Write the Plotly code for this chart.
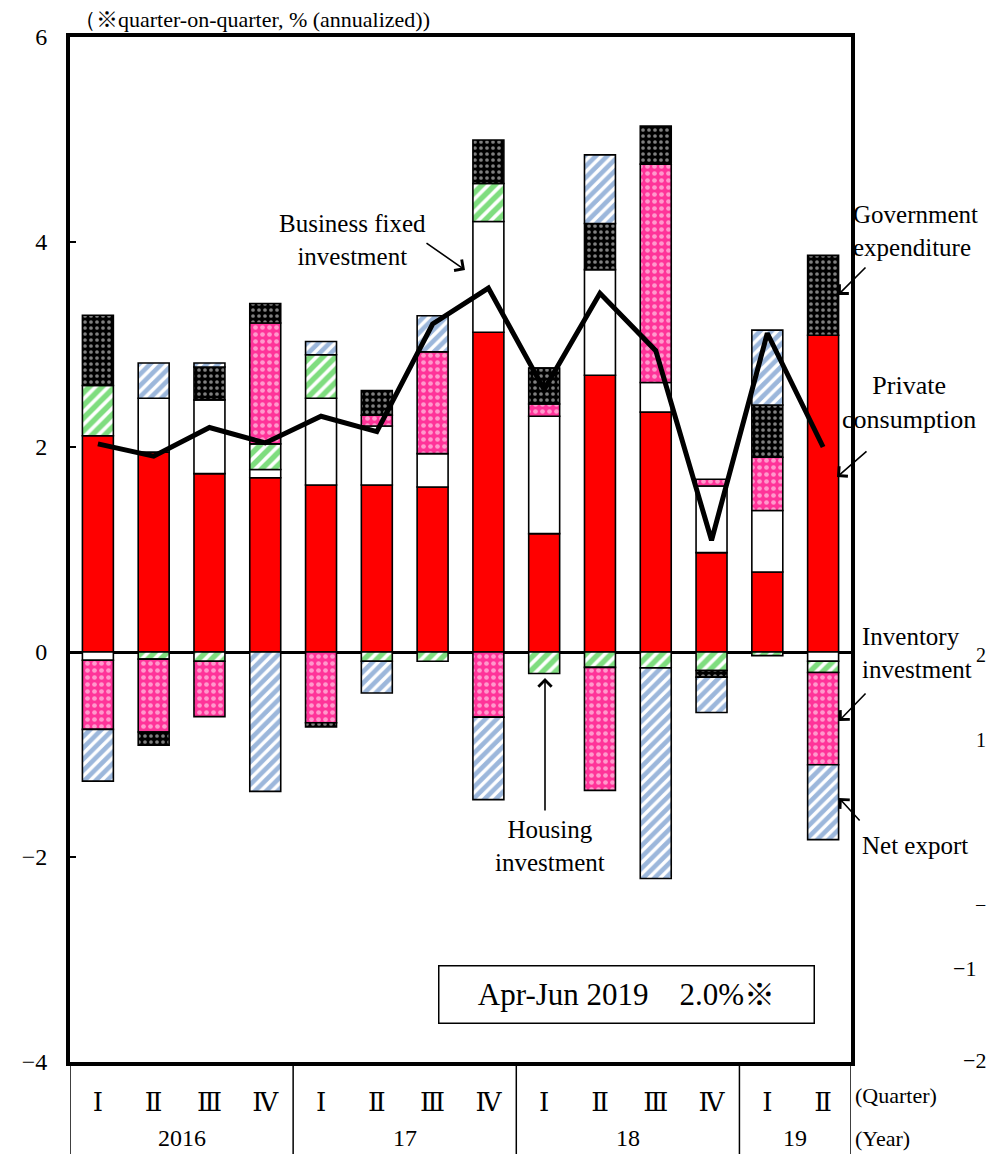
import plotly.graph_objects as go

# Contributions to real GDP growth (quarter-on-quarter, annualized, % points)
year_labels = ["2016"] * 4 + ["17"] * 4 + ["18"] * 4 + ["19"] * 2
quarter_labels = ["Ⅰ", "Ⅱ", "Ⅲ", "Ⅳ"] * 3 + ["Ⅰ", "Ⅱ"]

private_consumption = [2.11, 1.95, 1.74, 1.70, 1.63, 1.63, 1.61, 3.12, 1.155, 2.70, 2.34, 0.97, 0.78, 3.09]
business_fixed_inv = [-0.08, 0.525, 0.72, 0.08, 0.845, 0.575, 0.325, 1.08, 1.145, 1.03, 0.29, 0.65, 0.60, -0.09]
housing_inv = [0.49, -0.07, -0.09, 0.25, 0.425, -0.09, -0.09, 0.37, -0.21, -0.15, -0.155, -0.18, -0.035, -0.11]
inventory_inv = [-0.675, -0.71, -0.54, 1.18, -0.69, 0.105, 0.995, -0.635, 0.12, -1.20, 2.13, 0.065, 0.52, -0.90]
government_exp = [0.685, -0.13, 0.32, 0.19, -0.04, 0.24, 0.0, 0.425, 0.35, 0.45, 0.37, -0.065, 0.51, 0.78]
net_export = [-0.505, 0.345, 0.04, -1.36, 0.13, -0.31, 0.35, -0.805, 0.0, 0.67, -2.055, -0.345, 0.73, -0.73]
gdp_growth = [2.03, 1.91, 2.19, 2.04, 2.30, 2.15, 3.20, 3.55, 2.56, 3.50, 2.94, 1.09, 3.11, 2.0]

W, H = 989, 1154
ML, MR, MT, MB = 70, 138, 37, 92
PW, PH = W - ML - MR, H - MT - MB

SERIF = "Liberation Serif, DejaVu Serif, Times New Roman, serif"


def px(x):
    return (x - ML) / PW


def py(y):
    return (H - MB - y) / PH


# quarters are placed at integer positions along the category axis
pos = list(range(len(quarter_labels)))
outline = dict(color="black", width=1.6)

fig = go.Figure()

series = [
    ("Private consumption", private_consumption,
     dict(color="#FF0000", line=outline)),
    ("Business fixed investment", business_fixed_inv,
     dict(color="white", line=outline)),
    ("Housing investment", housing_inv,
     dict(color="white", line=outline,
          pattern=dict(shape="/", fgcolor="#00BB00", bgcolor="white", size=9, solidity=0.6))),
    ("Inventory investment", inventory_inv,
     dict(color="#FF3399", line=outline,
          pattern=dict(shape=".", fgcolor="white", bgcolor="#FF3399", size=7, solidity=0.36))),
    ("Government expenditure", government_exp,
     dict(color="black", line=outline,
          pattern=dict(shape=".", fgcolor="white", bgcolor="black", size=6, solidity=0.3))),
    ("Net export", net_export,
     dict(color="white", line=outline,
          pattern=dict(shape="/", fgcolor="#3A70B8", bgcolor="white", size=8, solidity=0.58))),
]

for name, vals, marker in series:
    fig.add_trace(go.Bar(x=pos, y=vals, name=name, marker=marker))

fig.add_trace(go.Scatter(
    x=pos, y=gdp_growth, name="Real GDP", mode="lines",
    line=dict(color="black", width=5),
))

annotations = []
shapes = []


def label(text, x, y, xanchor="center", align="center", size=25):
    annotations.append(dict(
        text=text, x=px(x), y=py(y), xref="paper", yref="paper",
        xanchor=xanchor, yanchor="middle", align=align, showarrow=False,
        font=dict(family=SERIF, size=size, color="black"),
    ))


def arrow(head, tail):
    annotations.append(dict(
        text="", x=px(head[0]), y=py(head[1]), xref="paper", yref="paper",
        ax=tail[0] - head[0], ay=tail[1] - head[1],
        showarrow=True, arrowhead=4, arrowsize=1.6, arrowwidth=1.6, arrowcolor="black",
    ))


label("（※quarter-on-quarter, % (annualized))", 72, 20, xanchor="left", size=22)

label("Business fixed<br>investment", 352, 240)
arrow((465, 270), (425, 242))

label("Government<br>expenditure", 851, 231, xanchor="left", align="left")
arrow((838, 295), (867, 266))

label("Private<br>consumption", 840, 402, xanchor="left", align="center", size=26)
arrow((837, 477), (868, 450))

label("Inventory<br>investment", 860, 653, xanchor="left", align="left")
arrow((839, 721), (867, 692))

label("Net export", 860, 845, xanchor="left", align="left")
arrow((839, 798), (861, 822))

label("Housing<br>investment", 550, 846)
arrow((545, 678), (545, 812))

label("(Quarter)", 853, 1095, xanchor="left", size=22)
label("(Year)", 853, 1138, xanchor="left", size=22)

# tick labels of a neighbouring axis at the right edge
label("2", 988, 655, xanchor="right", size=20)
label("1", 988, 740, xanchor="right", size=20)
label("−", 988, 905, xanchor="right", size=20)
label("−1", 978, 968, xanchor="right", size=22)
label("−2", 988, 1060, xanchor="right", size=22)

# year row under the quarter labels, with dividers between years
groups = []
for i, yr in enumerate(year_labels):
    if not groups or groups[-1][0] != yr:
        groups.append([yr, i, i])
    else:
        groups[-1][2] = i

for yr, first, last in groups:
    annotations.append(dict(
        text=yr, x=(first + last) / 2, y=py(1138), xref="x", yref="paper",
        xanchor="center", yanchor="middle", showarrow=False,
        font=dict(family=SERIF, size=24, color="black"),
    ))
    shapes.append(dict(type="line", xref="x", yref="paper",
                       x0=first - 0.5, x1=first - 0.5, y0=0, y1=py(H),
                       line=dict(color="black", width=1.5)))
shapes.append(dict(type="line", xref="x", yref="paper",
                   x0=groups[-1][2] + 0.5, x1=groups[-1][2] + 0.5, y0=0, y1=py(H),
                   line=dict(color="black", width=1.5)))

annotations.append(dict(
    text=f"Apr-Jun 2019　{gdp_growth[-1]:.1f}%※",
    x=px(626), y=py(995), xref="paper", yref="paper",
    xanchor="center", yanchor="middle", showarrow=False,
    width=372, height=54, align="center", valign="middle",
    bgcolor="white", bordercolor="black", borderwidth=1.5, borderpad=1,
    font=dict(family=SERIF, size=31, color="black"),
))

fig.update_layout(
    width=W, height=H,
    margin=dict(l=ML, r=MR, t=MT, b=MB, pad=0),
    paper_bgcolor="white", plot_bgcolor="white",
    barmode="relative", bargap=0.445,
    showlegend=False,
    font=dict(family=SERIF, size=22, color="black"),
    annotations=annotations,
    shapes=shapes,
)

fig.update_yaxes(
    range=[-4, 6], dtick=2, tick0=0,
    showgrid=False, zeroline=True, zerolinecolor="black", zerolinewidth=3,
    showline=True, linecolor="black", linewidth=4, mirror=True,
    ticks="inside", ticklen=6, tickwidth=1.5, tickcolor="black",
    ticklabelstandoff=14,
    tickfont=dict(family=SERIF, size=24, color="black"),
)

fig.update_xaxes(
    range=[-0.5, len(pos) - 0.5],
    tickmode="array", tickvals=pos, ticktext=quarter_labels,
    showgrid=False, ticks="",
    showline=True, linecolor="black", linewidth=4, mirror=True,
    ticklabelstandoff=14,
    tickfont=dict(family="DejaVu Serif, Liberation Serif, serif", size=26, color="black"),
)

fig.write_html("out.html")
